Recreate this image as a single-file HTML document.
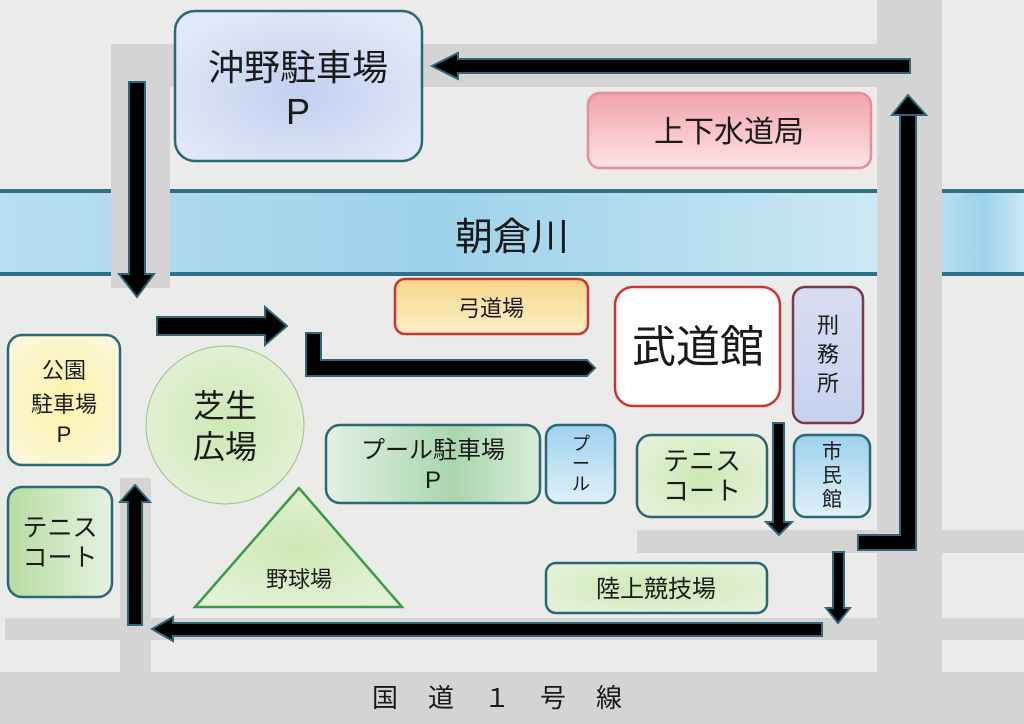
<!DOCTYPE html>
<html><head><meta charset="utf-8"><style>
html,body{margin:0;padding:0;background:#ebebe9;}
svg{display:block}
text{font-family:"Liberation Sans","Noto Sans CJK JP",sans-serif;fill:#1a1a1a;text-anchor:middle}
</style></head><body>
<svg width="1024" height="724" viewBox="0 0 1024 724" xmlns="http://www.w3.org/2000/svg">
<defs>
<radialGradient id="gBlue" cx="50%" cy="55%" r="60%"><stop offset="0" stop-color="#c3cff0"/><stop offset="1" stop-color="#e2e8f8"/></radialGradient>
<linearGradient id="gPink" x1="0" y1="0" x2="0" y2="1"><stop offset="0" stop-color="#f2a3ab"/><stop offset="1" stop-color="#fde3e5"/></linearGradient>
<linearGradient id="gRiver" x1="0" y1="0" x2="1" y2="0"><stop offset="0" stop-color="#b8def0"/><stop offset="0.5" stop-color="#9dd2ea"/><stop offset="1" stop-color="#cbe8f4"/></linearGradient>
<linearGradient id="gOrange" x1="0" y1="0" x2="0" y2="1"><stop offset="0" stop-color="#f8d58a"/><stop offset="1" stop-color="#fcefc8"/></linearGradient>
<radialGradient id="gYellow" cx="50%" cy="50%" r="60%"><stop offset="0" stop-color="#fbf3a8"/><stop offset="1" stop-color="#fbf6d8"/></radialGradient>
<radialGradient id="gGreen" cx="50%" cy="50%" r="60%"><stop offset="0" stop-color="#cde8b4"/><stop offset="1" stop-color="#e4f1d8"/></radialGradient>
<linearGradient id="gGreen2" x1="0" y1="0" x2="1" y2="0"><stop offset="0" stop-color="#e2f0e4"/><stop offset="0.6" stop-color="#a9d6ae"/><stop offset="1" stop-color="#d8ecd8"/></linearGradient>
<linearGradient id="gGreen3" x1="0" y1="0" x2="1" y2="0"><stop offset="0" stop-color="#b7dca0"/><stop offset="1" stop-color="#e6f2e0"/></linearGradient>
<linearGradient id="gSky" x1="0" y1="0" x2="0" y2="1"><stop offset="0" stop-color="#9ed1ef"/><stop offset="1" stop-color="#e0f0fa"/></linearGradient>
<linearGradient id="gLav" x1="0" y1="0" x2="0" y2="1"><stop offset="0" stop-color="#d8dcf3"/><stop offset="1" stop-color="#c8d2ee"/></linearGradient>
</defs>
<!-- roads -->
<g fill="#d4d4d4">
<rect x="0" y="672" width="1024" height="52"/>
<rect x="877" y="0" width="65" height="672"/>
<rect x="111" y="44" width="831" height="43"/>
<rect x="111" y="44" width="59" height="244"/>
<rect x="637" y="530" width="387" height="23"/>
<rect x="5" y="618" width="1019" height="22"/>
<rect x="120" y="478" width="31" height="194"/>
</g>
<!-- river -->
<rect x="0" y="190" width="877" height="86" fill="url(#gRiver)"/>
<rect x="942" y="190" width="82" height="86" fill="url(#gRiver)"/>
<g fill="#2e7088">
<rect x="0" y="189" width="111" height="4"/><rect x="170" y="189" width="707" height="4"/><rect x="942" y="189" width="82" height="4"/>
<rect x="0" y="272" width="111" height="4"/><rect x="170" y="272" width="707" height="4"/><rect x="942" y="272" width="82" height="4"/>
</g>
<rect x="111" y="190" width="59" height="86" fill="#d4d4d4"/>
<text x="512" y="250" font-size="38">朝倉川</text>
<!-- boxes -->
<g stroke-width="2.5">
<rect x="175" y="11" width="247" height="150" rx="20" fill="url(#gBlue)" stroke="#2a6878"/>
<rect x="588" y="93" width="283" height="75" rx="12" fill="url(#gPink)" stroke="#e48e98"/>
<rect x="395" y="279" width="193" height="55" rx="10" fill="url(#gOrange)" stroke="#cc3434"/>
<rect x="615" y="287" width="165" height="119" rx="18" fill="#fff" stroke="#cc3434"/>
<rect x="793" y="287" width="70" height="136" rx="12" fill="url(#gLav)" stroke="#7a3a48"/>
<rect x="8" y="335" width="112" height="130" rx="14" fill="url(#gYellow)" stroke="#2a6878"/>
<circle cx="225" cy="425" r="79" fill="url(#gGreen)" stroke="#9abf90" stroke-width="1"/>
<rect x="326" y="425" width="214" height="78" rx="14" fill="url(#gGreen2)" stroke="#2a6878"/>
<rect x="546" y="425" width="69" height="78" rx="12" fill="url(#gSky)" stroke="#2a6878"/>
<rect x="637" y="435" width="130" height="82" rx="14" fill="url(#gGreen)" stroke="#2a6878"/>
<rect x="794" y="435" width="76" height="82" rx="12" fill="url(#gSky)" stroke="#2a6878"/>
<rect x="8" y="487" width="104" height="110" rx="14" fill="url(#gGreen3)" stroke="#2a6878"/>
<polygon points="299,488 195,607 402,607" fill="url(#gGreen)" stroke="#3a9a48"/>
<rect x="546" y="563" width="221" height="50" rx="10" fill="url(#gGreen)" stroke="#2a6878"/>
</g>
<!-- arrows -->
<g fill="#000" stroke="#2e6878" stroke-width="2" stroke-linejoin="miter">
<polygon points="910,59 458,59 458,53 432,66 458,79 458,73 910,73"/>
<polygon points="129,82 145,82 145,274 154,274 137,297 119,274 129,274"/>
<polygon points="157,317 265,317 265,307 287,326 265,345 265,335 157,335"/>
<polygon points="306,333 321,333 321,360 587,360 595,368 587,376 306,376"/>
<polygon points="900,115 916,115 916,550 858,550 858,535 900,535"/>
<polygon points="892,115 908,95 926,115"/>
<polygon points="773,423 784,423 784,522 792,522 779,535 766,522 773,522"/>
<polygon points="833,552 844,552 844,608 850,608 838,623 826,608 833,608"/>
<polygon points="822,623 822,636 173,636 173,641 152,629 173,617 173,623"/>
<polygon points="128,625 142,625 142,502 150,502 135,485 120,502 128,502"/>
</g>
<!-- labels -->
<text x="298" y="80" font-size="36">沖野駐車場</text>
<text x="298" y="124" font-size="36">P</text>
<text x="729" y="142" font-size="30">上下水道局</text>
<text x="491" y="316" font-size="22">弓道場</text>
<text x="698" y="362" font-size="44">武道館</text>
<text x="828" y="333" font-size="22">刑</text>
<text x="828" y="362" font-size="22">務</text>
<text x="828" y="391" font-size="22">所</text>
<text x="64" y="378" font-size="22">公園</text>
<text x="64" y="412" font-size="22">駐車場</text>
<text x="64" y="442" font-size="22">P</text>
<text x="225" y="417" font-size="32">芝生</text>
<text x="225" y="458" font-size="32">広場</text>
<text x="433" y="458" font-size="24">プール駐車場</text>
<text x="433" y="488" font-size="24">P</text>
<text x="581" y="450" font-size="18">プ</text>
<text x="581" y="470" font-size="18">ー</text>
<text x="581" y="490" font-size="18">ル</text>
<text x="702" y="470" font-size="26">テニス</text>
<text x="702" y="500" font-size="26">コート</text>
<text x="832" y="458" font-size="20">市</text>
<text x="832" y="482" font-size="20">民</text>
<text x="832" y="506" font-size="20">館</text>
<text x="60" y="536" font-size="25">テニス</text>
<text x="60" y="566" font-size="25">コート</text>
<text x="299" y="587" font-size="22">野球場</text>
<text x="656" y="597" font-size="24">陸上競技場</text>
<text x="512" y="707" font-size="26" letter-spacing="30">国道１号線</text>
</svg>
</body></html>
